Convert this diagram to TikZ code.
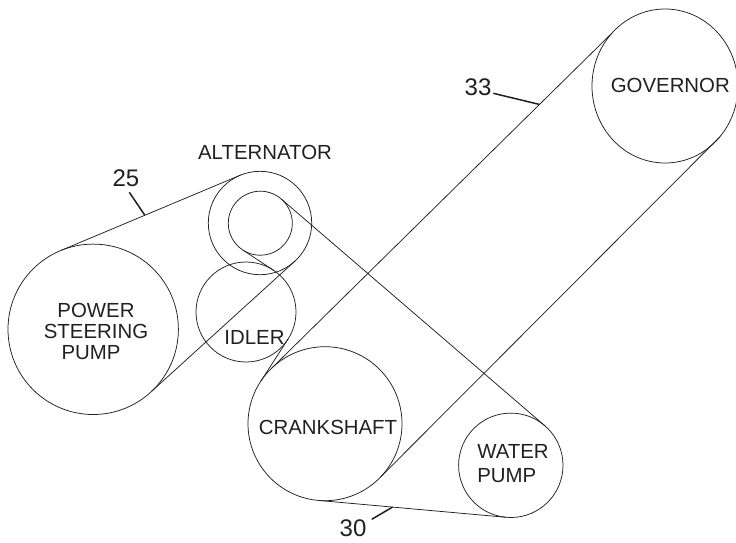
\documentclass[tikz,border=0pt]{standalone}
\usepackage{fontspec}
\setmainfont{Liberation Sans}
\usetikzlibrary{shapes.geometric}
\definecolor{ink}{RGB}{35,31,32}
\tikzset{
  pulley/.style={circle,draw=ink,line width=0.75pt,inner sep=0pt,outer sep=0pt,minimum size=#1},
  belt/.style={draw=ink,line width=0.75pt},
  leader/.style={draw=ink,line width=1.5pt},
  lbl/.style={text=ink,inner sep=0pt,font=\fontsize{20.4}{20.8}\selectfont},
  num/.style={text=ink,inner sep=0pt,font=\fontsize{24}{26}\selectfont}
}
\begin{document}
\begin{tikzpicture}[x=1pt,y=-1pt]
\useasboundingbox (0,0) rectangle (736,542);
% pulleys
\node[pulley=170.4pt] (ps) at (93.2,329.3) {};
\node[pulley=103.4pt] (altout) at (260,223) {};
\node[pulley=64pt] (altin) at (260.3,223.2) {};
\node[pulley=100pt] (idler) at (246,312) {};
\node[pulley=154pt] (crank) at (325,423.7) {};
\node[pulley=104.4pt] (water) at (510.8,465.3) {};
\node[ellipse,draw=ink,line width=0.75pt,inner sep=0pt,outer sep=0pt,minimum width=146pt,minimum height=154pt] (gov) at (665,86) {};
% belts
\draw[belt] (ps.112.75) -- coordinate[pos=.466] (b25) (altout.112.75);
\draw[belt] (ps.-47.75) -- (altout.-47.75);
\draw[belt] (altin.49.3) -- (water.49.3);
\draw[belt] (altin.-123.45) -- (idler.56.55);
\draw[belt] (idler.-32.9) -- (crank.147.1);
\draw[belt] (crank.-95.1) -- coordinate[pos=.395] (b30) (water.-95.1);
\draw[belt] (crank.134.5) -- coordinate[pos=.787] (b33) (gov.135);
\draw[belt] (crank.-44) -- (gov.-43);
% labels
\node[lbl] (lalt) at (265,152) {ALTERNATOR};
\node[lbl] (lgov) at (670.3,85.7) {GOVERNOR};
\node[lbl,align=center] (lps) at (96,331.5) {POWER\\STEERING\\PUMP\hspace*{10pt}};
\node[lbl] (lidl) at (254.5,337) {IDLER};
\node[lbl] (lcr) at (328,427) {CRANKSHAFT};
\node[lbl,align=left,font=\fontsize{20.4}{24}\selectfont] (lwp) at (513,464) {WATER\\PUMP};
% reference numbers
\node[num] (n25) at (126,178.6) {25};
\node[num] (n33) at (478,87) {33};
\node[num] (n30) at (353,528) {30};
\coordinate (f25) at (129.3,192.3);
\coordinate (f33) at (493.3,93.3);
\coordinate (f30) at (371.7,519.3);
\draw[leader] (f25) -- (b25);
\draw[leader] (f33) -- (b33);
\draw[leader] (f30) -- (b30);
\end{tikzpicture}
\end{document}
